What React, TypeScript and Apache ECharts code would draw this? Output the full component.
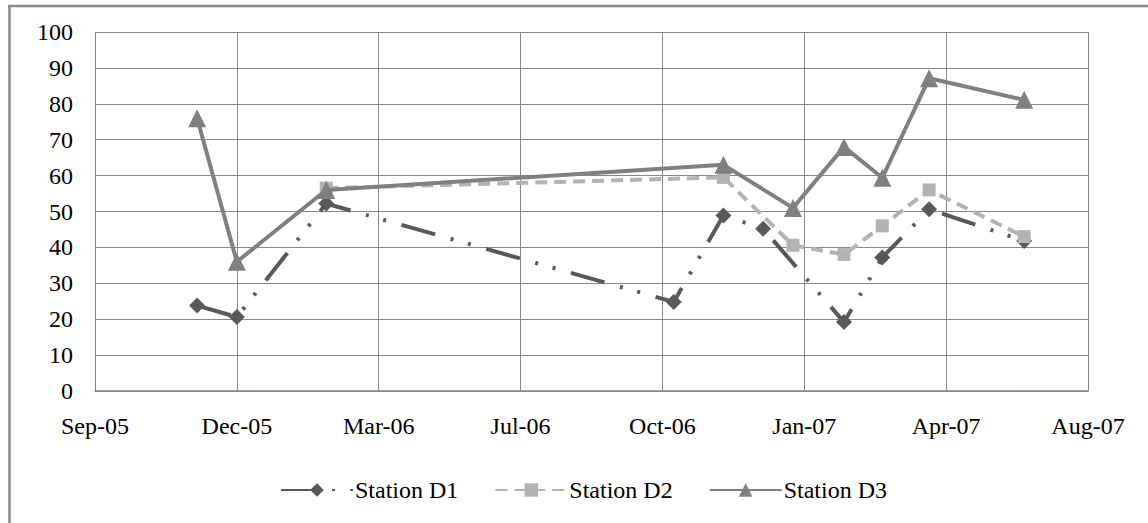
import React, { useEffect, useRef } from "react";
import * as echarts from "echarts";

// ---- data ----
const AXIS_START = "2005-09-05"; // first tick of the date axis (Sep-05)
const X_INTERVAL_DAYS = 100;
const X_SPAN_DAYS = 700;
const Y_MIN = 0;
const Y_MAX = 100;
const Y_INTERVAL = 10;
const MONTHS = ["Jan", "Feb", "Mar", "Apr", "May", "Jun", "Jul", "Aug", "Sep", "Oct", "Nov", "Dec"];

const seriesNames = ["Station D1", "Station D2", "Station D3"];

const d1Dates = ["2005-11-16", "2005-12-14", "2006-02-15", "2006-10-18", "2006-11-22", "2006-12-20", "2007-02-15", "2007-03-14", "2007-04-16", "2007-06-22"];
const d1Values = [23.8, 20.6, 52.2, 24.8, 48.9, 45.2, 19.2, 37.2, 50.6, 41.8];

const d2Dates = ["2006-02-15", "2006-11-22", "2007-01-10", "2007-02-15", "2007-03-14", "2007-04-16", "2007-06-22"];
const d2Values = [56.5, 59.5, 40.6, 38, 46, 56, 43];

const d3Dates = ["2005-11-16", "2005-12-14", "2006-02-15", "2006-11-22", "2007-01-10", "2007-02-15", "2007-03-14", "2007-04-16", "2007-06-22"];
const d3Values = [76, 36, 56, 63, 51, 68, 59.4, 87.1, 81.1];

// ---- helpers ----
const DAY_MS = 86400000;
const toUTC = (s: string) => {
  const [y, m, d] = s.split("-").map(Number);
  return Date.UTC(y, m - 1, d);
};
const startMs = toUTC(AXIS_START);
const dayOf = (s: string) => (toUTC(s) - startMs) / DAY_MS;
const fmtDay = (v: number) => {
  const dt = new Date(startMs + Math.round(v) * DAY_MS);
  return MONTHS[dt.getUTCMonth()] + "-" + String(dt.getUTCFullYear()).slice(2);
};
const pairs = (dates: string[], vals: number[]) => dates.map((d, i) => [dayOf(d), vals[i]]);

const FONT = "Liberation Serif, Times New Roman, serif";
const GRID_COLOR = "#878787";

export default function App() {
  const ref = useRef<HTMLDivElement>(null);

  useEffect(() => {
    if (!ref.current) return;
    const chart = echarts.init(ref.current, null, { renderer: "svg" });
    chart.setOption({
      animation: false,
      backgroundColor: "#ffffff",
      textStyle: { fontFamily: FONT, color: "#000" },
      grid: { left: 95, top: 32, right: 60, bottom: 132, containLabel: false },
      xAxis: {
        type: "value",
        min: 0,
        max: X_SPAN_DAYS,
        interval: X_INTERVAL_DAYS,
        axisLine: { show: true, lineStyle: { color: GRID_COLOR, width: 1.5 } },
        axisTick: { show: false },
        splitLine: { show: true, lineStyle: { color: GRID_COLOR, width: 1 } },
        axisLabel: {
          formatter: (v: number) => fmtDay(v),
          fontFamily: FONT,
          fontSize: 24,
          color: "#000",
          margin: 23,
        },
      },
      yAxis: {
        type: "value",
        min: Y_MIN,
        max: Y_MAX,
        interval: Y_INTERVAL,
        axisLine: { show: false },
        axisTick: { show: false },
        splitLine: { show: true, lineStyle: { color: GRID_COLOR, width: 1 } },
        axisLabel: { fontFamily: FONT, fontSize: 24, color: "#000", margin: 22 },
      },
      legend: {
        data: seriesNames,
        left: 280,
        top: 478,
        padding: 0,
        itemWidth: 72,
        itemHeight: 17,
        itemGap: 36,
        textStyle: { fontFamily: FONT, fontSize: 24, color: "#000", padding: [0, 0, 0, -3] },
      },
      series: [
        {
          name: seriesNames[0],
          type: "line",
          data: pairs(d1Dates, d1Values),
          symbol: "diamond",
          symbolSize: 16,
          z: 2,
          itemStyle: { color: "#595959" },
          lineStyle: { color: "#595959", width: 4, type: [35, 16, 3, 15, 3, 16] },
        },
        {
          name: seriesNames[1],
          type: "line",
          data: pairs(d2Dates, d2Values),
          symbol: "rect",
          symbolSize: 13,
          z: 3,
          itemStyle: { color: "#b3b3b3" },
          lineStyle: { color: "#b3b3b3", width: 4, type: [12, 7] },
        },
        {
          name: seriesNames[2],
          type: "line",
          data: pairs(d3Dates, d3Values),
          symbol: "triangle",
          symbolSize: 18,
          z: 4,
          itemStyle: { color: "#808080" },
          lineStyle: { color: "#808080", width: 4, type: "solid" },
        },
      ],
      graphic: [
        { type: "line", shape: { x1: 9.5, y1: 6, x2: 9.5, y2: 530 }, style: { stroke: "#8a8a8a", lineWidth: 2.5 } },
        { type: "line", shape: { x1: 8, y1: 6, x2: 1160, y2: 6 }, style: { stroke: "#8a8a8a", lineWidth: 2.5 } },
      ],
    });
    return () => chart.dispose();
  }, []);

  return (
    <div
      ref={ref}
      style={{ position: "fixed", left: 0, top: 0, width: 1148, height: 523 }}
    />
  );
}
